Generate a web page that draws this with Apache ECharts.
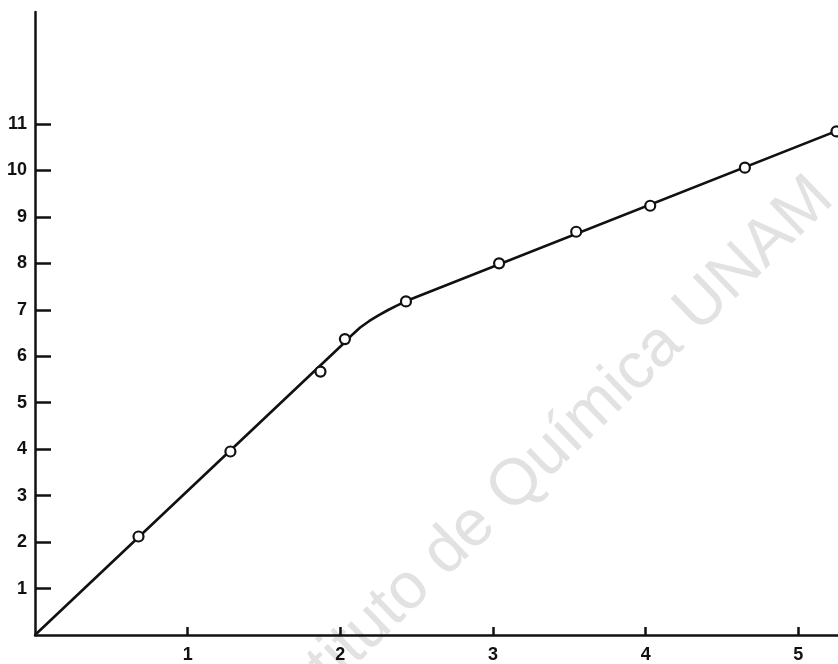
<!DOCTYPE html>
<html>
<head>
<meta charset="utf-8">
<script src="https://cdn.jsdelivr.net/npm/echarts@6/dist/echarts.min.js"></script>
<style>
html,body{margin:0;padding:0;background:#fff;}
#c{width:838px;height:664px;}
</style>
</head>
<body>
<div id="c"></div>
<script>
// measured points
const pointsX = [0.678, 1.28, 1.87, 2.03, 2.43, 3.04, 3.545, 4.03, 4.65, 5.25];
const pointsY = [2.12, 3.95, 5.67, 6.37, 7.18, 8.00, 8.68, 9.24, 10.06, 10.84];
// hand-drawn curve through the points
const curveX = [0, 2.03, 2.08, 2.13, 2.19, 2.25, 2.31, 2.37, 2.44, 5.26];
const curveY = [0, 6.30, 6.47, 6.62, 6.76, 6.88, 6.99, 7.09, 7.20, 10.86];
const xTicks = [1, 2, 3, 4, 5];
const yTicks = [1, 2, 3, 4, 5, 6, 7, 8, 9, 10, 11];
const watermark = 'Instituto de Química UNAM';

const chart = echarts.init(document.getElementById('c'), null, {renderer: 'canvas'});
const labelFont = {fontFamily: '"Liberation Sans", Arial, sans-serif', fontWeight: 'bold', fontSize: 18, color: '#111'};
chart.setOption({
  animation: false,
  backgroundColor: '#fff',
  grid: {left: 35, right: 0, top: 12, bottom: 28.5, containLabel: false},
  xAxis: {
    type: 'value', min: 0, max: 5.26,
    axisLine: {show: true, lineStyle: {color: '#111', width: 2.5}},
    axisTick: {show: true, inside: true, length: 8, lineStyle: {color: '#111', width: 2.5}, customValues: xTicks},
    axisLabel: Object.assign({show: true, margin: 11, customValues: xTicks}, labelFont),
    splitLine: {show: false}
  },
  yAxis: {
    type: 'value', min: 0, max: 13.41,
    axisLine: {show: true, lineStyle: {color: '#111', width: 2.5}},
    axisTick: {show: true, inside: true, length: 16, lineStyle: {color: '#111', width: 2.5}, customValues: yTicks},
    axisLabel: Object.assign({show: true, margin: 8, customValues: yTicks}, labelFont),
    splitLine: {show: false}
  },
  graphic: [{
    type: 'text', x: 540, y: 462, rotation: 44 * Math.PI / 180, z: -10, silent: true,
    style: {text: watermark, font: '65px "Liberation Sans", Arial, sans-serif', fill: '#e2e2e2', align: 'center', verticalAlign: 'middle'}
  }],
  series: [
    {
      type: 'line', data: curveX.map((x, i) => [x, curveY[i]]),
      showSymbol: false, smooth: false, clip: true, z: 2,
      lineStyle: {color: '#111', width: 2.6}
    },
    {
      type: 'scatter', data: pointsX.map((x, i) => [x, pointsY[i]]),
      symbol: 'circle', symbolSize: 10, clip: false, z: 3,
      itemStyle: {color: '#fff', borderColor: '#111', borderWidth: 2.2, opacity: 1}
    }
  ]
});
</script>
</body>
</html>
